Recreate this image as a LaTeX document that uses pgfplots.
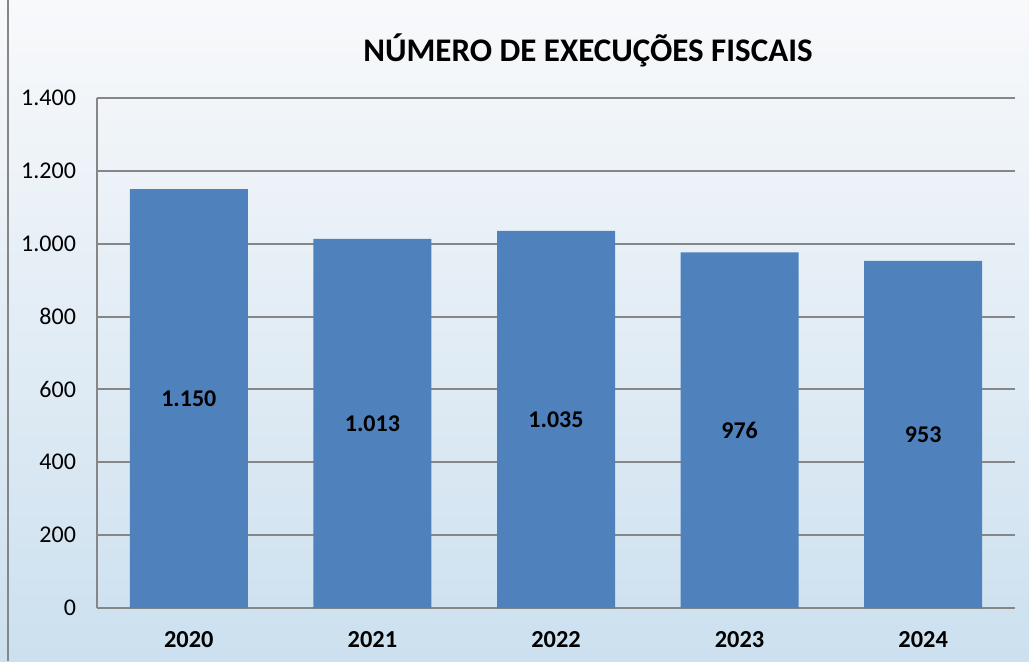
\documentclass[border=0pt]{standalone}
\usepackage{pgfplots}
\pgfplotsset{compat=1.18}
\usepackage{fontspec}
\setmainfont{Carlito}
\definecolor{barblue}{RGB}{79,129,189}
\definecolor{gridgray}{RGB}{134,134,134}
\definecolor{bgtop}{RGB}{248,249,251}
\definecolor{bgmid}{RGB}{236,241,246}
\definecolor{bgbot}{RGB}{204,224,239}

\begin{document}
\begin{tikzpicture}[x=0.5pt,y=0.5pt]
% background panel, 1029 x 661 px
\useasboundingbox (0,0) rectangle (1029,661);
\shade[top color=bgtop, middle color=bgmid, bottom color=bgbot] (0,0) rectangle (1029,661);
\draw[gridgray, line width=1.2pt] (8,0) -- (8,661);

\node[font=\fontsize{16.5}{19}\selectfont\bfseries] at (588,611) {NÚMERO DE EXECUÇÕES FISCAIS};

\begin{axis}[
    at={(48.5pt,26.5pt)}, anchor=south west,
    scale only axis,
    width=459pt, height=255pt,
    ybar, bar width=59pt,
    xmin=-0.5, xmax=4.5,
    ymin=0, ymax=1400,
    ytick={0,200,...,1400},
    xtick=data,
    xticklabels={2020,2021,2022,2023,2024},
    axis x line*=bottom, axis y line*=left,
    axis line style={-, draw=gridgray, line width=1pt},
    ymajorgrids,
    grid style={draw=gridgray, line width=1pt},
    major tick length=0pt,
    /pgf/number format/assume math mode=true,
    /pgf/number format/1000 sep={.},
    yticklabel style={font=\fontsize{12}{14}\selectfont, xshift=-7pt},
    xticklabel style={font=\fontsize{12.2}{14}\selectfont\bfseries, yshift=-8pt},
    visualization depends on=y \as \rawy,
    nodes near coords={\pgfmathprintnumber[assume math mode=true,1000 sep={.}]{\pgfplotspointmeta}},
    every node near coord/.append style={font=\fontsize{12}{14}\selectfont\bfseries, anchor=center,
        shift={(axis direction cs:0,-\rawy/2)}},
]
\addplot[fill=barblue, draw=none] coordinates {
    (0,1150) (1,1013) (2,1035) (3,976) (4,953)
};
\end{axis}
\end{tikzpicture}
\end{document}
